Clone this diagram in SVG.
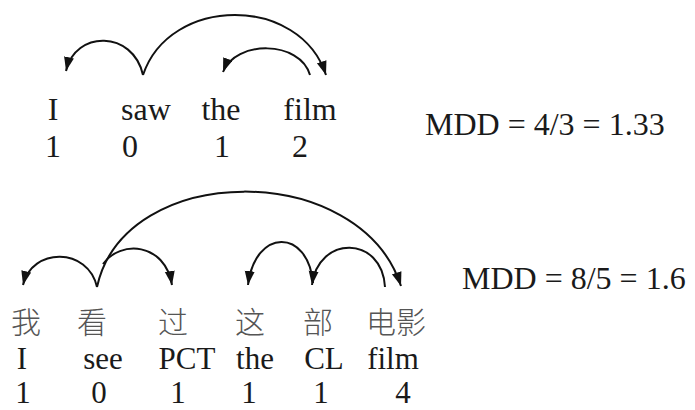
<svg xmlns="http://www.w3.org/2000/svg" width="695" height="410" viewBox="0 0 695 410">
<style>
.t{font-family:'Times New Roman','DejaVu Serif',serif;font-size:32px;fill:#1a1a1a;text-anchor:middle}
.b{font-size:31px}
.m{font-family:'Times New Roman','DejaVu Serif',serif;font-size:32px;fill:#1a1a1a}
.zh{font-family:'Noto Sans CJK SC','Noto Sans CJK TC',sans-serif;font-size:30px;font-weight:300;fill:#555;text-anchor:middle}
.arc{fill:none;stroke:#111;stroke-width:2;marker-end:url(#ah)}
</style>
<defs>
<marker id="ah" markerUnits="userSpaceOnUse" markerWidth="15" markerHeight="11" refX="14" refY="5" orient="auto">
<path d="M0,0 L14,5 L0,10 z" fill="#111"/>
</marker>
</defs>
<rect width="695" height="410" fill="#fff"/>
<g id="connectors">
<path class="arc" d="M143,75 C133,30 75,30 66,71"/>
<path class="arc" d="M143,75 C170,-5 300,-5 326,75"/>
<path class="arc" d="M310,75 C300,40 235,40 223,72"/>
<path class="arc" d="M97,287 C88,247 32,247 23,285"/>
<path class="arc" d="M103,264 C120,240 165,242 172,285"/>
<path class="arc" d="M97,287 C125,160 360,160 401,286"/>
<path class="arc" d="M385,287 C382,235 318,235 312,285"/>
<path class="arc" d="M313,283 C308,228 255,228 248,285"/>
</g>
<g id="top-I"><text class="t" x="53" y="120">I</text><text class="t" x="53" y="157">1</text></g>
<g id="top-saw"><text class="t" x="146" y="120">saw</text><text class="t" x="130" y="157">0</text></g>
<g id="top-the"><text class="t" x="221" y="120">the</text><text class="t" x="222" y="157">1</text></g>
<g id="top-film"><text class="t" x="310" y="120">film</text><text class="t" x="300" y="157">2</text></g>
<g id="mdd1"><text class="m" x="425" y="135">MDD = 4/3 = 1.33</text></g>
<g id="zh-wo"><text class="zh" x="26" y="333">我</text><text class="t b" x="22" y="369">I</text><text class="t b" x="23" y="403">1</text></g>
<g id="zh-kan"><text class="zh" x="92" y="333">看</text><text class="t b" x="103" y="369">see</text><text class="t b" x="99" y="403">0</text></g>
<g id="zh-guo"><text class="zh" x="173" y="333">过</text><text class="t b" x="187" y="369">PCT</text><text class="t b" x="178" y="403">1</text></g>
<g id="zh-zhe"><text class="zh" x="250" y="333">这</text><text class="t b" x="255" y="369">the</text><text class="t b" x="249" y="403">1</text></g>
<g id="zh-bu"><text class="zh" x="318" y="333">部</text><text class="t b" x="324" y="369">CL</text><text class="t b" x="321" y="403">1</text></g>
<g id="zh-dianying"><text class="zh" x="396" y="333">电影</text><text class="t b" x="393" y="369">film</text><text class="t b" x="403" y="403">4</text></g>
<g id="mdd2"><text class="m" x="462" y="289">MDD = 8/5 = 1.6</text></g>
</svg>
